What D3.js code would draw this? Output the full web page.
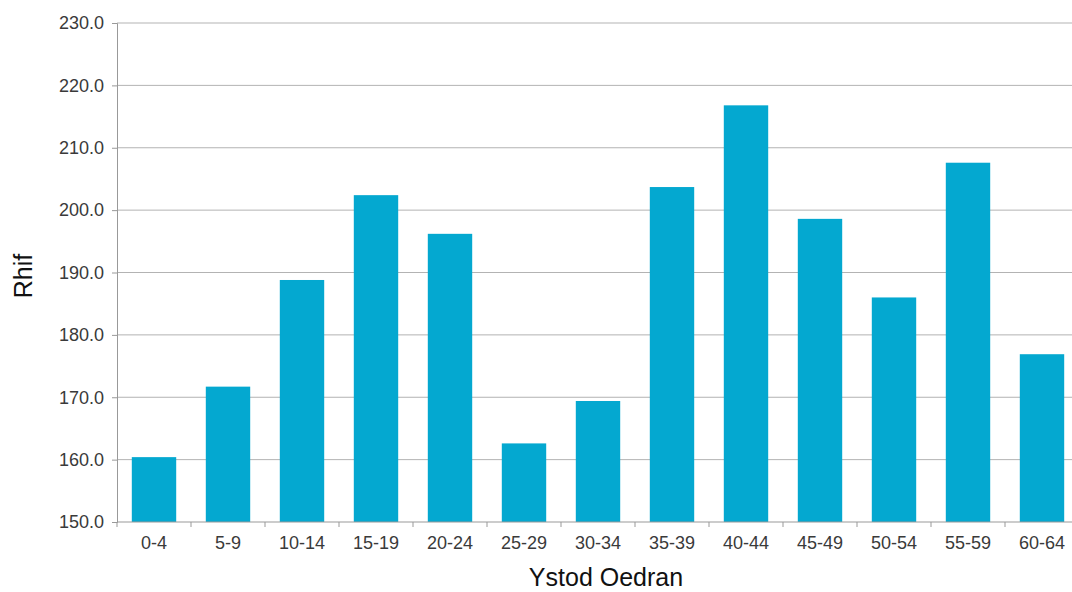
<!DOCTYPE html>
<html>
<head>
<meta charset="utf-8">
<script src="https://cdn.jsdelivr.net/npm/d3@7"></script>
<style>
  html, body { margin: 0; padding: 0; background: #fff; }
  svg { display: block; }
  text { font-family: "Liberation Sans", Arial, Helvetica, sans-serif; }
</style>
</head>
<body>
<svg id="chart" width="1072" height="592"></svg>
<script>
const categories = ["0-4","5-9","10-14","15-19","20-24","25-29","30-34","35-39","40-44","45-49","50-54","55-59","60-64"];
const values = [160.4, 171.7, 188.8, 202.4, 196.2, 162.6, 169.4, 203.7, 216.8, 198.6, 186.0, 207.6, 176.9];
const yTicks = [150, 160, 170, 180, 190, 200, 210, 220, 230];
const yTitle = "Rhif";
const xTitle = "Ystod Oedran";

const svg = d3.select("#chart");
const mLeft = 117, mTop = 23, mBottom = 522;
const step = 74;
const mRight = mLeft + step * categories.length;

const x = d3.scaleBand().domain(categories).range([mLeft, mRight]).paddingInner(0.4).paddingOuter(0.2);
const y = d3.scaleLinear().domain([150, 230]).range([mBottom, mTop]);

// gridlines
svg.append("g").selectAll("line").data(yTicks.slice(1)).join("line")
  .attr("x1", mLeft).attr("x2", 1072)
  .attr("y1", d => y(d)).attr("y2", d => y(d))
  .attr("stroke", "#b3b3b3").attr("stroke-width", 1);

// bars
svg.append("g").selectAll("rect").data(values).join("rect")
  .attr("x", (d, i) => x(categories[i]))
  .attr("width", x.bandwidth())
  .attr("y", d => y(d))
  .attr("height", d => y(150) - y(d))
  .attr("fill", "#04A8D0");

// y axis
const yAxis = svg.append("g").attr("transform", `translate(${mLeft},0)`)
  .call(d3.axisLeft(y).tickValues(yTicks).tickFormat(d3.format(".1f")).tickSize(5).tickPadding(8));
yAxis.select(".domain").attr("stroke", "#999");
yAxis.selectAll(".tick line").attr("stroke", "#999");
yAxis.selectAll(".tick text").attr("fill", "#3a3a3a").style("font-size", "18px");

// x axis
const xAxis = svg.append("g").attr("transform", `translate(0,${mBottom})`)
  .call(d3.axisBottom(x).tickSize(0).tickPadding(14));
xAxis.select(".domain").remove();
svg.append("line").attr("x1", mLeft).attr("x2", 1072).attr("y1", mBottom).attr("y2", mBottom)
  .attr("stroke", "#999");
svg.append("g").selectAll("line").data(categories).join("line")
  .attr("x1", d => x(d) - x.step() * x.paddingInner() / 2)
  .attr("x2", d => x(d) - x.step() * x.paddingInner() / 2)
  .attr("y1", mBottom).attr("y2", mBottom + 5)
  .attr("stroke", "#999");
xAxis.selectAll(".tick text").attr("fill", "#3a3a3a").style("font-size", "18px");

// titles
svg.append("text").attr("x", 606).attr("y", 586).attr("text-anchor", "middle")
  .style("font-size", "25px").attr("fill", "#111").text(xTitle);
svg.append("text").attr("transform", "translate(32,276) rotate(-90)").attr("text-anchor", "middle")
  .style("font-size", "25px").attr("fill", "#111").text(yTitle);
</script>
</body>
</html>
